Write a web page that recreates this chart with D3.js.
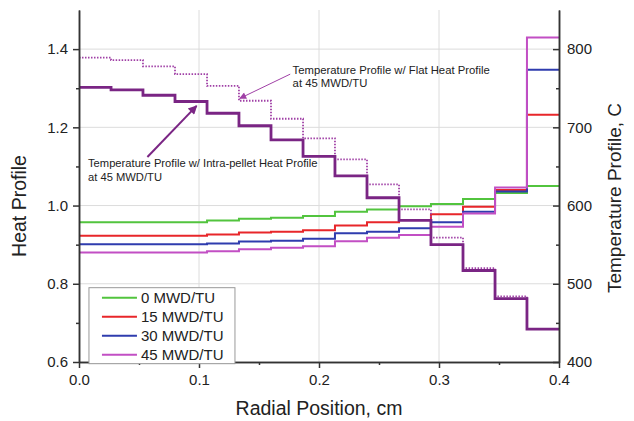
<!DOCTYPE html>
<html>
<head>
<meta charset="utf-8">
<script src="https://cdn.jsdelivr.net/npm/d3@7"></script>
<style>
  body { margin: 0; background: #fff; }
  text { font-family: "Liberation Sans", Arial, sans-serif; }
</style>
</head>
<body>
<div id="plot"></div>
<script>
// ring edges (cm) of the 15 radial rings
const ringEdges = [0, 0.0267, 0.0533, 0.08, 0.1067, 0.1333, 0.16, 0.1867,
    0.2133, 0.24, 0.2667, 0.2933, 0.32, 0.3467, 0.3733, 0.4];

const burnups = ["0 MWD/TU", "15 MWD/TU", "30 MWD/TU", "45 MWD/TU"];

// heat profile per ring (left axis)
const heat0  = [0.957, 0.957, 0.957, 0.957, 0.962, 0.966, 0.969, 0.973, 0.984, 0.990, 0.998, 1.004, 1.017, 1.032, 1.050];
const heat15 = [0.923, 0.923, 0.923, 0.923, 0.926, 0.931, 0.933, 0.937, 0.949, 0.957, 0.963, 0.978, 0.997, 1.040, 1.232];
const heat30 = [0.901, 0.901, 0.901, 0.901, 0.903, 0.908, 0.910, 0.915, 0.929, 0.933, 0.942, 0.957, 0.984, 1.036, 1.347];
const heat45 = [0.880, 0.880, 0.880, 0.880, 0.883, 0.888, 0.892, 0.896, 0.909, 0.918, 0.925, 0.946, 0.980, 1.046, 1.430];

// temperature per ring at 45 MWD/TU (right axis, C)
const tempIntra = [751, 748, 741, 733, 718, 702, 684, 663, 638, 610, 581, 550, 517, 481, 442];
const tempFlat  = [789, 786, 778, 768, 753, 734, 711, 686, 659, 627, 595, 559, 520, 484, 442];

const xTicks = [0, 0.1, 0.2, 0.3, 0.4];
const xMinor = [0.05, 0.15, 0.25, 0.35];
const yTicks = [0.6, 0.8, 1.0, 1.2, 1.4];
const yMinor = [0.7, 0.9, 1.1, 1.3];
const tTicks = [400, 500, 600, 700, 800];
const tMinor = [450, 550, 650, 750];

const heatSeries = [heat0, heat15, heat30, heat45];
const colors = ["#52c43e", "#e8262a", "#2f3cae", "#c24fc4"];

const w = 634;
const h = 421;
const margin = {top: 10, right: 75, bottom: 59, left: 79};
const innerwidth = w - margin.left - margin.right;
const innerheight = h - margin.top - margin.bottom;

const svg = d3.select("div#plot")
    .append("svg")
    .attr("width", w)
    .attr("height", h);

const xScale = d3.scaleLinear().domain([0, 0.4]).range([0, innerwidth]);
const yScale = d3.scaleLinear().domain([0.6, 1.5]).range([innerheight, 0]);
const tScale = d3.scaleLinear().domain([400, 850]).range([innerheight, 0]);

const g = svg.append("g")
    .attr("transform", `translate(${margin.left}, ${margin.top})`);

// grid
g.append("g").selectAll("line")
    .data(xTicks.slice(1, -1))
    .join("line")
    .attr("x1", d => xScale(d)).attr("x2", d => xScale(d))
    .attr("y1", 0).attr("y2", innerheight)
    .attr("stroke", "#dcdcdc");

g.append("g").selectAll("line")
    .data(yTicks.slice(1))
    .join("line")
    .attr("x1", 0).attr("x2", innerwidth)
    .attr("y1", d => yScale(d)).attr("y2", d => yScale(d))
    .attr("stroke", "#dcdcdc");

function stepPoints(vals) {
  const pts = vals.map((v, i) => [ringEdges[i], v]);
  pts.push([ringEdges[ringEdges.length - 1], vals[vals.length - 1]]);
  return pts;
}

const heatLine = d3.line()
    .x(d => xScale(d[0]))
    .y(d => yScale(d[1]))
    .curve(d3.curveStepAfter);

const tempLine = d3.line()
    .x(d => xScale(d[0]))
    .y(d => tScale(d[1]))
    .curve(d3.curveStepAfter);

heatSeries.forEach((s, i) => {
  g.append("path")
      .attr("d", heatLine(stepPoints(s)))
      .attr("fill", "none")
      .attr("stroke", colors[i])
      .attr("stroke-width", 2);
});

g.append("path")
    .attr("d", tempLine(stepPoints(tempFlat)))
    .attr("fill", "none")
    .attr("stroke", "#a040a6")
    .attr("stroke-width", 1.8)
    .attr("stroke-dasharray", "1.5,1.5");

g.append("path")
    .attr("d", tempLine(stepPoints(tempIntra)))
    .attr("fill", "none")
    .attr("stroke", "#7a2584")
    .attr("stroke-width", 2.8);

// axes
const xAxis = d3.axisBottom(xScale).tickValues(xTicks)
    .tickFormat(d3.format(".1f")).tickSize(6).tickSizeOuter(0).tickPadding(6);
const xAxisMinor = d3.axisBottom(xScale).tickValues(xMinor)
    .tickFormat("").tickSize(3).tickSizeOuter(0);
const yAxis = d3.axisLeft(yScale).tickValues(yTicks)
    .tickFormat(d3.format(".1f")).tickSize(6).tickSizeOuter(0).tickPadding(5);
const yAxisMinor = d3.axisLeft(yScale).tickValues(yMinor)
    .tickFormat("").tickSize(3).tickSizeOuter(0);
const tAxis = d3.axisRight(tScale).tickValues(tTicks)
    .tickSize(-6).tickSizeOuter(0).tickPadding(8);
const tAxisMinor = d3.axisRight(tScale).tickValues(tMinor)
    .tickFormat("").tickSize(-3).tickSizeOuter(0);

function styleAxis(sel) {
  sel.selectAll("path, line").attr("stroke", "#333").attr("stroke-width", 1.5);
  sel.selectAll("text").attr("fill", "#222").style("font-size", "15px")
      .style("font-family", "Liberation Sans, Arial, sans-serif");
}

g.append("g").attr("transform", `translate(0, ${innerheight})`).call(xAxis).call(styleAxis);
g.append("g").attr("transform", `translate(0, ${innerheight})`).call(xAxisMinor).call(styleAxis);
g.append("g").call(yAxis).call(styleAxis);
g.append("g").call(yAxisMinor).call(styleAxis);
g.append("g").attr("transform", `translate(${innerwidth}, 0)`).call(tAxis).call(styleAxis);
g.append("g").attr("transform", `translate(${innerwidth}, 0)`).call(tAxisMinor).call(styleAxis);

// axis titles
svg.append("text")
    .attr("x", margin.left + innerwidth / 2)
    .attr("y", h - 6)
    .attr("text-anchor", "middle")
    .style("font-size", "19.5px")
    .style("fill", "#222")
    .text("Radial Position, cm");

svg.append("text")
    .attr("transform", "rotate(-90)")
    .attr("x", -(margin.top + 196))
    .attr("y", 26)
    .attr("text-anchor", "middle")
    .style("font-size", "19.5px")
    .style("fill", "#222")
    .text("Heat Profile");

svg.append("text")
    .attr("transform", "rotate(-90)")
    .attr("x", -(margin.top + 188))
    .attr("y", 621)
    .attr("text-anchor", "middle")
    .style("font-size", "19px")
    .style("fill", "#222")
    .text("Temperature Profile, C");

// legend
const legend = g.append("g")
    .attr("transform", `translate(${xScale(0.0083)}, ${yScale(0.79)})`);

legend.append("rect")
    .attr("width", 146)
    .attr("height", 76)
    .attr("fill", "#fff")
    .attr("stroke", "#999");

burnups.forEach((b, i) => {
  const row = legend.append("g").attr("transform", `translate(0, ${10 + i * 19})`);
  row.append("line")
      .attr("x1", 13).attr("x2", 48)
      .attr("stroke", colors[i]).attr("stroke-width", 2);
  row.append("text")
      .attr("x", 52).attr("dy", "0.35em")
      .style("font-size", "15px")
      .style("fill", "#222")
      .text(b);
});

// annotations
const defs = svg.append("defs");
defs.append("marker")
    .attr("id", "headThin")
    .attr("viewBox", "0 0 10 10")
    .attr("refX", 9).attr("refY", 5)
    .attr("markerWidth", 9).attr("markerHeight", 7)
    .attr("markerUnits", "userSpaceOnUse")
    .attr("orient", "auto")
    .append("path").attr("d", "M0,0L10,5L0,10z").attr("fill", "#a040a6");
defs.append("marker")
    .attr("id", "headThick")
    .attr("viewBox", "0 0 10 10")
    .attr("refX", 9).attr("refY", 5)
    .attr("markerWidth", 11).attr("markerHeight", 9)
    .attr("markerUnits", "userSpaceOnUse")
    .attr("orient", "auto")
    .append("path").attr("d", "M0,0L10,5L0,10z").attr("fill", "#7a2584");

g.append("line")
    .attr("x1", xScale(0.176)).attr("y1", yScale(1.336))
    .attr("x2", xScale(0.134)).attr("y2", yScale(1.274))
    .attr("stroke", "#a040a6").attr("stroke-width", 1)
    .attr("marker-end", "url(#headThin)");

g.append("line")
    .attr("x1", xScale(0.057)).attr("y1", yScale(1.124))
    .attr("x2", xScale(0.098)).attr("y2", yScale(1.255))
    .attr("stroke", "#7a2584").attr("stroke-width", 2)
    .attr("marker-end", "url(#headThick)");

const note1 = g.append("text")
    .attr("x", xScale(0.178)).attr("y", yScale(1.337))
    .style("font-size", "11.3px").style("fill", "#222");
note1.append("tspan").text("Temperature Profile w/ Flat Heat Profile");
note1.append("tspan").attr("x", xScale(0.178)).attr("dy", 13).text("at 45 MWD/TU");

const note2 = g.append("text")
    .attr("x", xScale(0.0075)).attr("y", yScale(1.098))
    .style("font-size", "11.2px").style("fill", "#222");
note2.append("tspan").text("Temperature Profile w/ Intra-pellet Heat Profile");
note2.append("tspan").attr("x", xScale(0.0075)).attr("dy", 14).text("at 45 MWD/TU");
</script>
</body>
</html>
